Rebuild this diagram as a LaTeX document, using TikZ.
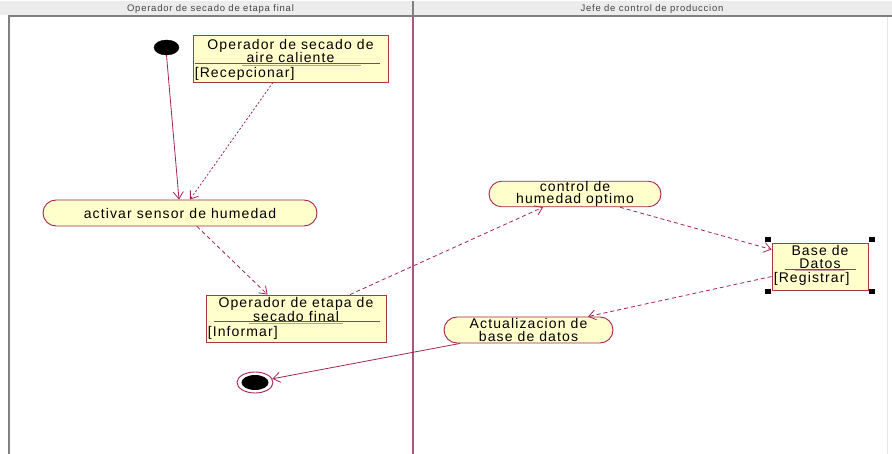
\documentclass[tikz,border=0pt]{standalone}
\usepackage{fontspec}
\setmainfont{Liberation Sans}[LetterSpace=8]
\usetikzlibrary{arrows.meta,shapes.misc,shapes.geometric,calc}

\definecolor{flowred}{RGB}{165,35,85}
\definecolor{boxred}{RGB}{170,55,70}
\definecolor{nodefill}{RGB}{255,255,204}
\definecolor{lanegray}{RGB}{128,128,128}
\definecolor{headfill}{RGB}{236,236,236}
\definecolor{headtext}{RGB}{70,70,70}
\definecolor{lanediv}{RGB}{175,85,125}
\definecolor{ulgray}{RGB}{200,150,160}

\tikzset{
  activity/.style={rounded rectangle, draw=flowred, fill=nodefill, line width=0.9pt,
    inner sep=0pt, align=center, font=\fontsize{14}{12.5}\selectfont},
  objbox/.style={rectangle, draw=boxred, fill=nodefill, line width=0.9pt, inner sep=0pt},
  txt/.style={inner sep=0pt, font=\fontsize{14}{14}\selectfont},
  headtxt/.style={inner sep=0pt, text=headtext, font=\fontsize{9.5}{10}\selectfont},
  sepline/.style={draw=boxred, line width=0.9pt},
  ulline/.style={draw=ulgray, line width=0.8pt},
  flow/.style={draw=flowred, line width=0.8pt, -{Straight Barb[length=7pt,width=10pt]}},
  objflow/.style={flow, dash pattern=on 4pt off 3pt},
  dotflow/.style={flow, dash pattern=on 2pt off 2pt},
  handle/.style={fill=black, draw=none, minimum width=6pt, minimum height=5pt, inner sep=0pt}
}

\begin{document}
\begin{tikzpicture}[x=1pt,y=-1pt]
\useasboundingbox (0,0) rectangle (892,454);

% swimlane header and lane borders
\fill[headfill] (0,1.5) rectangle (892,15);
\draw[lanegray, line width=2pt] (8,16.5) -- (892,16.5);
\draw[lanegray, line width=2pt] (8.5,16) -- (8.5,454);
\draw[lanegray, line width=1.2pt] (413,1.5) -- (413,16);
\draw[lanediv, line width=1.3pt] (413,17.5) -- (413,454);
\draw[black!10, line width=0.8pt] (887,17.5) -- (887,454);
\node[headtxt] (lane1) at (210.5,9) {Operador de secado de etapa final};
\node[headtxt] (lane2) at (652,9) {Jefe de control de produccion};

% start and end states
\node[ellipse, fill=black, draw=black, minimum width=25pt, minimum height=15pt, inner sep=0pt] (init) at (166.5,47.5) {};
\node[ellipse, fill=white, draw=flowred, line width=0.9pt, minimum width=36pt, minimum height=21pt, inner sep=0pt] (final) at (255,382.5) {};
\node[ellipse, fill=black, minimum width=27pt, minimum height=15pt, inner sep=0pt] (finaldot) at (255,382.5) {};

% activities
\node[activity, minimum width=274pt, minimum height=26pt] (act1) at (180,213) {activar sensor de humedad};
\node[activity, minimum width=172pt, minimum height=24pt] (ctrl) at (575,194) {control de\\humedad optimo};
\node[activity, minimum width=169pt, minimum height=26pt] (act3) at (528.5,330) {Actualizacion de\\base de datos};

% object flow: Operador de secado de aire caliente
\node[objbox, minimum width=195pt, minimum height=47pt] (box1) at (290.5,58.5) {};
\node[txt] (box1a) at ($(box1.north)+(0,11)$) {Operador de secado de};
\node[txt] (box1b) at ($(box1.north)+(0,23)$) {aire caliente};
\draw[ulline] ($(box1b.west)+(-4,7.5)$) -- ($(box1b.east)+(26,7.5)$);
\draw[sepline] ($(box1.north west)+(2,28.5)$) -- ($(box1.north east)+(-8,28.5)$);
\node[txt, anchor=west] (box1c) at ($(box1.north west)+(2,39)$) {[Recepcionar]};

% object flow: Operador de etapa de secado final
\node[objbox, minimum width=180pt, minimum height=47pt] (box2) at (296,318.5) {};
\node[txt] (box2a) at ($(box2.north)+(0,9)$) {Operador de etapa de};
\node[txt] (box2b) at ($(box2.north)+(0,22)$) {secado final};
\draw[ulline] ($(box2b.west)+(-4,6.5)$) -- ($(box2b.east)+(4,6.5)$);
\draw[sepline] ($(box2.north west)+(8,27)$) -- ($(box2.north east)+(-6,27)$);
\node[txt, anchor=west] (box2c) at ($(box2.north west)+(2,38)$) {[Informar]};

% object flow: Base de Datos
\node[objbox, minimum width=96pt, minimum height=47pt] (db) at (820,266.5) {};
\node[txt] (dba) at ($(db.north)+(0,7.5)$) {Base de};
\node[txt] (dbb) at ($(db.north)+(0,21)$) {Datos};
\draw[ulline] ($(dbb.west)+(-4,6.5)$) -- ($(dbb.east)+(4,6.5)$);
\draw[sepline] ($(db.north west)+(13,27)$) -- ($(db.north east)+(-12,27)$);
\node[txt, anchor=west] (dbc) at ($(db.north west)+(2,36)$) {[Registrar]};
\node[handle] (h1) at ($(db.north west)+(-4,-3)$) {};
\node[handle] (h2) at ($(db.north east)+(4,-3)$) {};
\node[handle] (h3) at ($(db.south west)+(-4,1)$) {};
\node[handle] (h4) at ($(db.south east)+(4,1)$) {};

% transitions and object flows
\draw[flow] (init.south) -- ($(act1.north)+(-1,0)$);
\draw[dotflow] ($(box1.south)+(-17.5,0)$) -- ($(act1.north)+(10,0)$);
\draw[objflow] ($(act1.south)+(17,0)$) -- ($(box2.north west)+(62,0)$);
\draw[objflow] ($(box2.north)+(54,0)$) -- ($(ctrl.south)+(-32,0)$);
\draw[objflow] ($(ctrl.south)+(45,0)$) -- ($(db.north west)+(0,7)$);
\draw[objflow] ($(db.north west)+(0,34)$) -- ($(act3.north)+(59.5,0)$);
\draw[flow] ($(act3.south)+(-68.5,0)$) -- (final.12);
\end{tikzpicture}
\end{document}
